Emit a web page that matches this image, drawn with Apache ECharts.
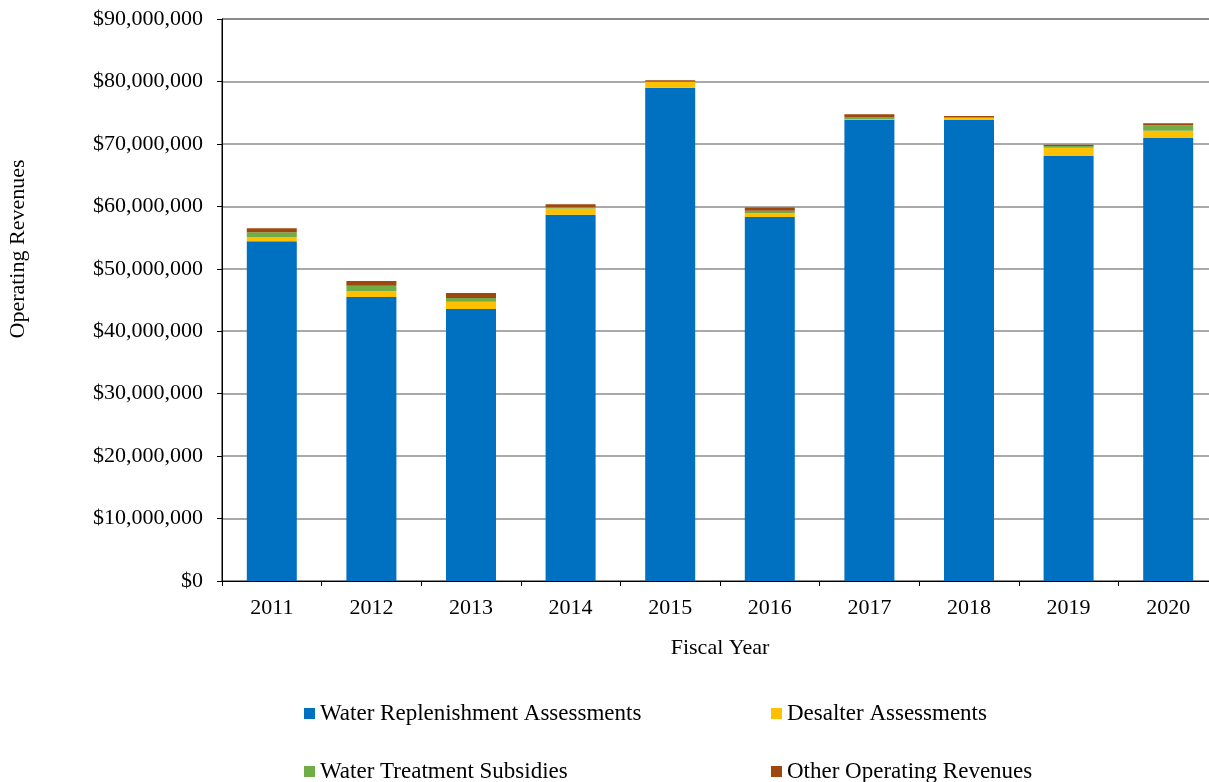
<!DOCTYPE html>
<html>
<head>
<meta charset="utf-8">
<script src="https://cdn.jsdelivr.net/npm/echarts@6/dist/echarts.min.js"></script>
<style>
  html, body { margin: 0; padding: 0; background: #fff; }
  #chart { width: 1209px; height: 782px; }
</style>
</head>
<body>
<div id="chart"></div>
<script>
// Fiscal years on the category axis
const years = ['2011', '2012', '2013', '2014', '2015', '2016', '2017', '2018', '2019', '2020'];

// Operating revenues by source, in dollars
const replenishment = [54400000, 45500000, 43550000, 58650000, 79000000, 58300000, 73880000, 73830000, 68070000, 70950000];
const desalter      = [  700000,   900000,  1170000,  1000000,   900000,   600000,    50000,   370000,  1330000,  1170000];
const treatment     = [  750000,   900000,   600000,   200000,   100000,   400000,   300000,    30000,   270000,   860000];
const other         = [  650000,   750000,   800000,   500000,   200000,   500000,   500000,   220000,   200000,   320000];

const seriesNames = ['Water Replenishment Assessments', 'Desalter Assessments', 'Water Treatment Subsidies', 'Other Operating Revenues'];
const seriesColors = ['#0070C0', '#FFC000', '#70AD47', '#9E480E'];
const seriesValues = [replenishment, desalter, treatment, other];

const yAxisTitle = 'Operating Revenues';
const xAxisTitle = 'Fiscal Year';

const font = 'Liberation Serif';
const fontSize = 22;

function money(v) {
  return '$' + v.toLocaleString('en-US');
}

function legendAt(name, left, top) {
  return {
    data: [name],
    left: left,
    top: top,
    icon: 'rect',
    itemWidth: 11,
    itemHeight: 11,
    itemGap: 0,
    selectedMode: false,
    textStyle: { fontFamily: font, fontSize: 23, color: '#000', padding: [0, 0, 0, 0] }
  };
}

const chart = echarts.init(document.getElementById('chart'), null, { renderer: 'canvas' });

chart.setOption({
  animation: false,
  backgroundColor: '#fff',
  grid: {
    left: 222, right: -9, top: 19, bottom: 201,
    containLabel: false, outerBoundsMode: 'none',
    show: true, borderColor: '#000', borderWidth: 1
  },
  legend: [
    legendAt(seriesNames[0], 299, 697),
    legendAt(seriesNames[1], 766, 697),
    legendAt(seriesNames[2], 299, 755),
    legendAt(seriesNames[3], 766, 755)
  ],
  // vertical title of the value axis, sitting a little above the plot's middle
  graphic: [{
    type: 'text',
    x: 18,
    y: 249,
    rotation: Math.PI / 2,
    style: {
      text: yAxisTitle,
      fontFamily: font,
      fontSize: fontSize,
      fill: '#000',
      align: 'center',
      verticalAlign: 'middle'
    }
  }],
  xAxis: {
    type: 'category',
    data: years,
    name: xAxisTitle,
    nameLocation: 'middle',
    nameGap: 56,
    nameTextStyle: { fontFamily: font, fontSize: fontSize, color: '#000' },
    axisLine: { lineStyle: { color: '#000', width: 1 } },
    axisTick: { show: true, length: 5, lineStyle: { color: '#000' } },
    axisLabel: { fontFamily: font, fontSize: fontSize, color: '#000', margin: 16 }
  },
  yAxis: {
    type: 'value',
    min: 0,
    max: 90000000,
    interval: 10000000,
    axisLine: { show: true, lineStyle: { color: '#000', width: 1 } },
    axisTick: { show: true, length: 5, lineStyle: { color: '#000' } },
    axisLabel: { fontFamily: font, fontSize: fontSize, color: '#000', margin: 19, formatter: money },
    splitLine: { lineStyle: { color: '#8c8c8c', width: 1.5 } }
  },
  series: seriesValues.map((vals, i) => ({
    name: seriesNames[i],
    type: 'bar',
    stack: 'revenue',
    data: vals,
    barWidth: 50,
    itemStyle: { color: seriesColors[i] }
  }))
});
</script>
</body>
</html>
